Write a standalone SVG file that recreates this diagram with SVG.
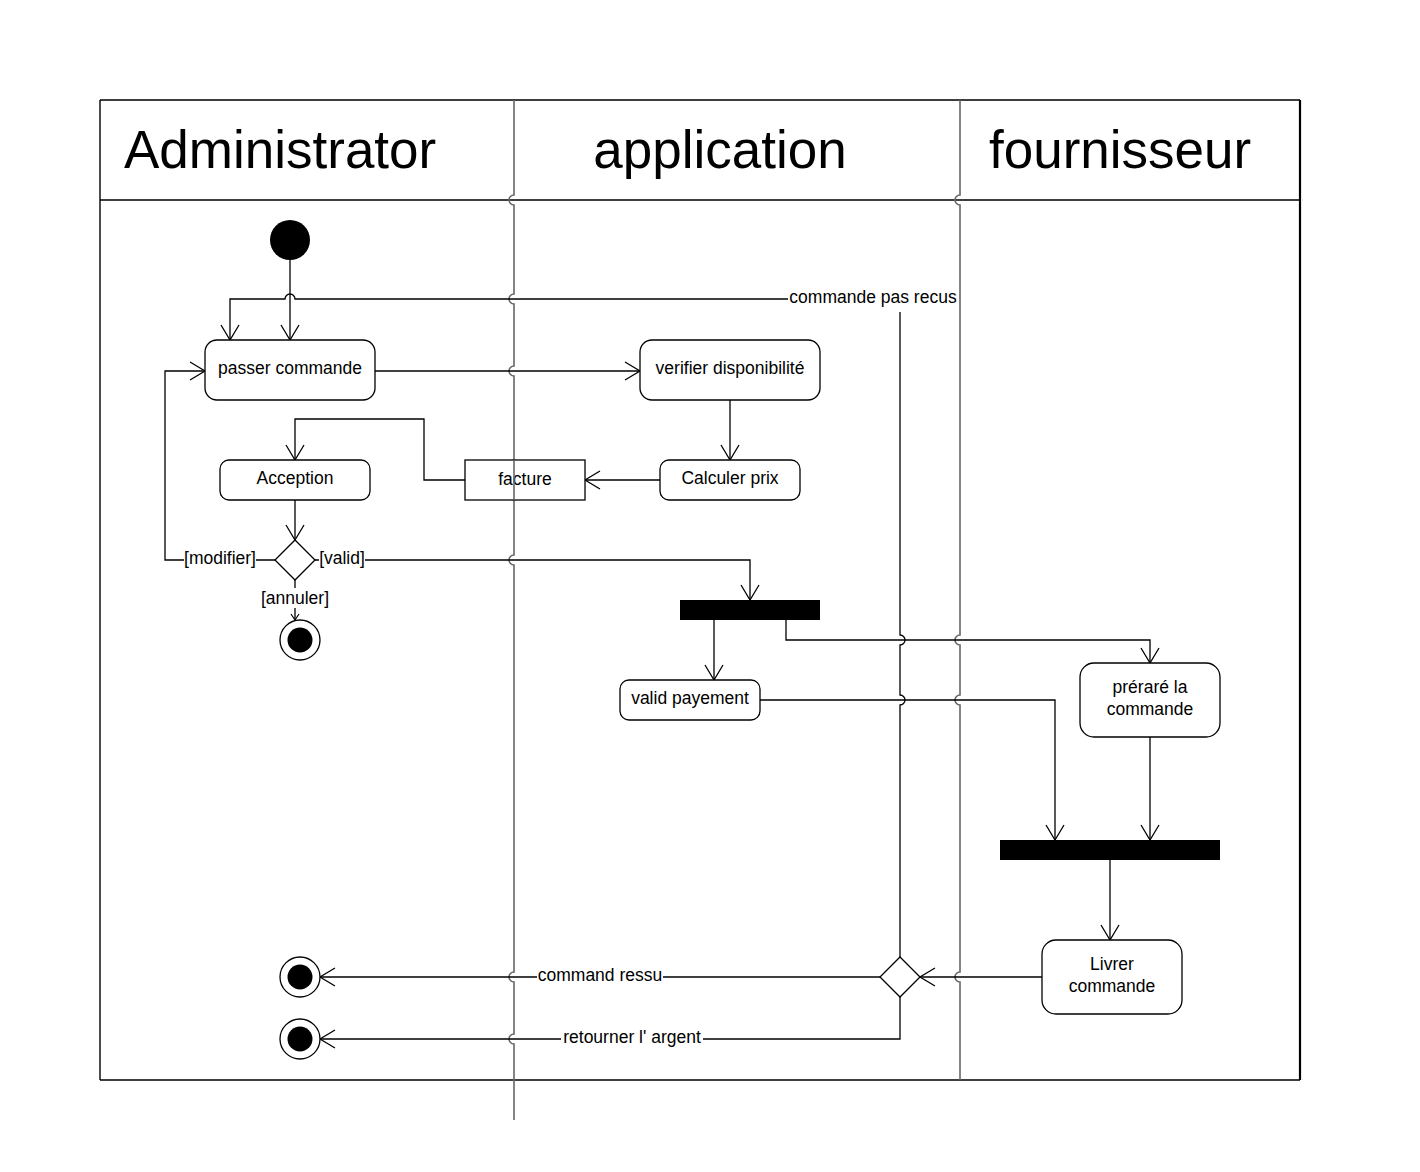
<svg xmlns="http://www.w3.org/2000/svg" width="1420" height="1172" viewBox="0 0 1420 1172">
<style>
text{font-family:"Liberation Sans",Arial,sans-serif;fill:#000}
.h{font-size:53px}
.t{font-size:17.5px;text-anchor:middle}
.n{fill:#fff;stroke:#000;stroke-width:1.3}
.c{fill:none;stroke:#000;stroke-width:1.3}
.lane{fill:none;stroke:#666;stroke-width:1.6}
.bg{fill:#fff}
</style>
<defs>
<marker id="a" viewBox="-16 -10 18 20" refX="0" refY="0" markerWidth="18" markerHeight="20" markerUnits="userSpaceOnUse" orient="auto">
<path d="M-15,-9 L0,0 L-15,9" fill="none" stroke="#000" stroke-width="1.3"/>
</marker>
<marker id="s" viewBox="-8 -6 10 12" refX="0" refY="0" markerWidth="10" markerHeight="12" markerUnits="userSpaceOnUse" orient="auto">
<path d="M-6,-4 L0,0 L-6,4" fill="none" stroke="#000" stroke-width="1.2"/>
</marker>
</defs>
<rect width="1420" height="1172" fill="#fff"/>
<g id="pool">
<path d="M100,100 H1300 M100,1080 H1300 M100,100 V1080 M100,200 H1300" fill="none" stroke="#000" stroke-width="1.4"/>
<path d="M1300,100 V1080" fill="none" stroke="#000" stroke-width="2.2"/>
<path class="lane" d="M514,100 V195 A5,5 0 0 0 514,205 V294 A5,5 0 0 0 514,304 V366 A5,5 0 0 0 514,376 V555 A5,5 0 0 0 514,565 V972 A5,5 0 0 0 514,982 V1034 A5,5 0 0 0 514,1044 V1120"/>
<path class="lane" d="M960,100 V195 A5,5 0 0 0 960,205 V635 A5,5 0 0 0 960,645 V695 A5,5 0 0 0 960,705 V972 A5,5 0 0 0 960,982 V1080"/>
<text class="h" x="124" y="168">Administrator</text>
<text class="h" x="720" y="168" text-anchor="middle">application</text>
<text class="h" x="989" y="168">fournisseur</text>
</g>
<g id="connectors">
<path class="c" d="M290,260 V340" marker-end="url(#a)"/>
<path class="c" d="M375,371 H640" marker-end="url(#a)"/>
<path class="c" d="M730,400 V460" marker-end="url(#a)"/>
<path class="c" d="M660,480 H585" marker-end="url(#a)"/>
<path class="c" d="M465,480 H424 V419 H295 V460" marker-end="url(#a)"/>
<path class="c" d="M295,500 V540" marker-end="url(#a)"/>
<path class="c" d="M275,560 H165 V371 H205" marker-end="url(#a)"/>
<path class="c" d="M315,560 H750 V600" marker-end="url(#a)"/>
<path class="c" d="M295,580 V620" marker-end="url(#s)"/>
<path class="c" d="M714,620 V680" marker-end="url(#a)"/>
<path class="c" d="M786,620 V640 H1150 V663" marker-end="url(#a)"/>
<path class="c" d="M760,700 H1055 V840" marker-end="url(#a)"/>
<path class="c" d="M1150,737 V840" marker-end="url(#a)"/>
<path class="c" d="M1110,860 V940" marker-end="url(#a)"/>
<path class="c" d="M1042,977 H920" marker-end="url(#a)"/>
<path class="c" d="M880,977 H320" marker-end="url(#a)"/>
<path class="c" d="M900,997 V1039 H320" marker-end="url(#a)"/>
<path class="c" d="M900,957 V705 A5,5 0 0 0 900,695 V645 A5,5 0 0 0 900,635 V312"/>
<path class="c" d="M788,299 H295 A5,5 0 0 0 285,299 H230 V340" marker-end="url(#a)"/>
<rect class="bg" x="184" y="548" width="72" height="20"/>
<text class="t" x="220" y="564">[modifier]</text>
<rect class="bg" x="319" y="548" width="46" height="20"/>
<text class="t" x="342" y="564">[valid]</text>
<rect class="bg" x="260" y="588" width="70" height="20"/>
<text class="t" x="295" y="604">[annuler]</text>
<rect class="bg" x="537" y="965" width="126" height="20"/>
<text class="t" x="600" y="981">command ressu</text>
<rect class="bg" x="561" y="1027" width="142" height="20"/>
<text class="t" x="632" y="1043">retourner l' argent</text>
<text class="t" x="873" y="303">commande pas recus</text>
</g>
<g id="start"><circle cx="290" cy="240" r="20" fill="#000"/></g>
<g id="passer"><rect class="n" x="205" y="340" width="170" height="60" rx="12"/><text class="t" x="290" y="374">passer commande</text></g>
<g id="verifier"><rect class="n" x="640" y="340" width="180" height="60" rx="12"/><text class="t" x="730" y="374">verifier disponibilité</text></g>
<g id="calculer"><rect class="n" x="660" y="460" width="140" height="40" rx="9"/><text class="t" x="730" y="484">Calculer prix</text></g>
<g id="facture"><rect class="n" x="465" y="460" width="120" height="40"/><text class="t" x="525" y="485">facture</text><path class="lane" d="M514,460 V500"/></g>
<g id="acception"><rect class="n" x="220" y="460" width="150" height="40" rx="9"/><text class="t" x="295" y="484">Acception</text></g>
<g id="decision1"><path class="n" d="M295,540 L315,560 L295,580 L275,560 Z"/></g>
<g id="end1"><circle class="n" cx="300" cy="640" r="20"/><circle cx="300" cy="640" r="12.5" fill="#000"/></g>
<g id="fork"><rect x="680" y="600" width="140" height="20" fill="#000"/></g>
<g id="payement"><rect class="n" x="620" y="680" width="140" height="40" rx="9"/><text class="t" x="690" y="704">valid payement</text></g>
<g id="preparer"><rect class="n" x="1080" y="663" width="140" height="74" rx="14"/><text class="t" x="1150" y="693">préraré la</text><text class="t" x="1150" y="715">commande</text></g>
<g id="join"><rect x="1000" y="840" width="220" height="20" fill="#000"/></g>
<g id="livrer"><rect class="n" x="1042" y="940" width="140" height="74" rx="14"/><text class="t" x="1112" y="970">Livrer</text><text class="t" x="1112" y="992">commande</text></g>
<g id="decision2"><path class="n" d="M900,957 L920,977 L900,997 L880,977 Z"/></g>
<g id="end2"><circle class="n" cx="300" cy="977" r="20"/><circle cx="300" cy="977" r="12.5" fill="#000"/></g>
<g id="end3"><circle class="n" cx="300" cy="1039" r="20"/><circle cx="300" cy="1039" r="12.5" fill="#000"/></g>
</svg>
